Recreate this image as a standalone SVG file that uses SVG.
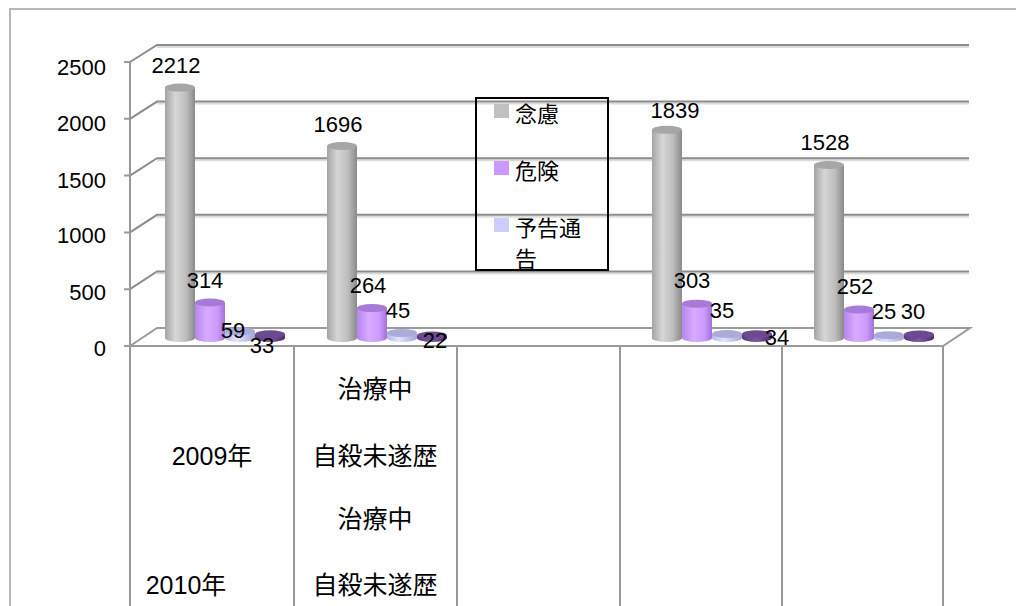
<svg xmlns="http://www.w3.org/2000/svg" width="1016" height="606" viewBox="0 0 1016 606">
<defs>
<linearGradient id="gGray" x1="0" x2="1" y1="0" y2="0"><stop offset="0" stop-color="#a4a4a4"/><stop offset="0.35" stop-color="#d6d6d6"/><stop offset="0.7" stop-color="#bdbdbd"/><stop offset="1" stop-color="#8a8a8a"/></linearGradient>
<linearGradient id="gPur" x1="0" x2="1" y1="0" y2="0"><stop offset="0" stop-color="#b586ec"/><stop offset="0.4" stop-color="#d9abff"/><stop offset="0.75" stop-color="#cc99ff"/><stop offset="1" stop-color="#a072d6"/></linearGradient>
<linearGradient id="gLav" x1="0" x2="1" y1="0" y2="0"><stop offset="0" stop-color="#b8b8ec"/><stop offset="0.4" stop-color="#e2e2ff"/><stop offset="1" stop-color="#a4a4d4"/></linearGradient>
<linearGradient id="gDark" x1="0" x2="1" y1="0" y2="0"><stop offset="0" stop-color="#5a3a7e"/><stop offset="0.5" stop-color="#7c5aa2"/><stop offset="1" stop-color="#4a2c6c"/></linearGradient>
</defs>
<style>
.grid{stroke:#8c8c8c;stroke-width:2;fill:none}
.gridsh{stroke:#dcdcdc;stroke-width:2;fill:none}
.ax{stroke:#999999;stroke-width:2;fill:none}
.num{font-family:"Liberation Sans","Noto Sans CJK JP",sans-serif;font-size:22px;fill:#000}
.cat{font-family:"Liberation Sans","Noto Sans CJK JP",sans-serif;font-size:25px;fill:#000;text-anchor:middle}
.leg{font-family:"Noto Sans CJK JP",sans-serif;font-size:22px;fill:#000}
.tg{fill:#a6a6a6}.tp{fill:#a87ad8}.tl{fill:#ababd9}.td{fill:#6a4a90}
</style>
<rect width="1016" height="606" fill="#ffffff"/>
<path d="M10,606 V9 H1016" fill="none" stroke="#a0a0a0" stroke-width="1.5"/>

<g id="gridlines">
<path class="gridsh" d="M157,47 H969 M157,103.6 H969 M157,160.2 H969 M157,216.8 H969 M157,273.4 H969"/>
<path class="grid" d="M130,62 L157,45 H969 M130,118.8 L157,101.6 H969 M130,175.6 L157,158.2 H969 M130,232.4 L157,214.8 H969 M130,289.2 L157,271.4 H969"/>
<path d="M130,346 L157,328 H970 L943,346 Z" fill="#ffffff" stroke="#9a9a9a" stroke-width="2"/>
</g>

<g id="axes">
<path class="ax" d="M130,62 V606 M124,62 H130 M124,118.8 H130 M124,175.6 H130 M124,232.4 H130 M124,289.2 H130 M124,346 H943"/>
<path class="ax" d="M294,346 V606 M457,346 V606 M620,346 V606 M782,346 V606 M943,346 V606"/>
<g class="num" text-anchor="end">
<text x="106" y="75">2500</text><text x="106" y="131">2000</text><text x="106" y="188">1500</text><text x="106" y="243">1000</text><text x="106" y="300">500</text><text x="106" y="356">0</text>
</g>
</g>

<g id="bars">
<g id="g2009">
<rect x="165" y="87.6" width="30" height="250.4" fill="url(#gGray)"/><ellipse cx="180" cy="338" rx="15" ry="4" fill="url(#gGray)"/><ellipse cx="180" cy="87.6" rx="15" ry="4" class="tg"/>
<rect x="195" y="302.5" width="30" height="35.5" fill="url(#gPur)"/><ellipse cx="210" cy="338" rx="15" ry="4" fill="url(#gPur)"/><ellipse cx="210" cy="302.5" rx="15" ry="4" class="tp"/>
<rect x="225" y="331.3" width="30" height="6.7" fill="url(#gLav)"/><ellipse cx="240" cy="338" rx="15" ry="4" fill="url(#gLav)"/><ellipse cx="240" cy="331.3" rx="15" ry="4" class="tl"/>
<rect x="255" y="334.3" width="30" height="3.7" fill="url(#gDark)"/><ellipse cx="270" cy="338" rx="15" ry="4" fill="url(#gDark)"/><ellipse cx="270" cy="334.3" rx="15" ry="4" class="td"/>
</g>
<g id="g2009b">
<rect x="327" y="146" width="30" height="192" fill="url(#gGray)"/><ellipse cx="342" cy="338" rx="15" ry="4" fill="url(#gGray)"/><ellipse cx="342" cy="146" rx="15" ry="4" class="tg"/>
<rect x="357" y="308.1" width="30" height="29.9" fill="url(#gPur)"/><ellipse cx="372" cy="338" rx="15" ry="4" fill="url(#gPur)"/><ellipse cx="372" cy="308.1" rx="15" ry="4" class="tp"/>
<rect x="387" y="332.9" width="30" height="5.1" fill="url(#gLav)"/><ellipse cx="402" cy="338" rx="15" ry="4" fill="url(#gLav)"/><ellipse cx="402" cy="332.9" rx="15" ry="4" class="tl"/>
<rect x="417" y="335.5" width="30" height="2.5" fill="url(#gDark)"/><ellipse cx="432" cy="338" rx="15" ry="4" fill="url(#gDark)"/><ellipse cx="432" cy="335.5" rx="15" ry="4" class="td"/>
</g>
<g id="g2010">
<rect x="652" y="129.8" width="30" height="208.2" fill="url(#gGray)"/><ellipse cx="667" cy="338" rx="15" ry="4" fill="url(#gGray)"/><ellipse cx="667" cy="129.8" rx="15" ry="4" class="tg"/>
<rect x="682" y="303.7" width="30" height="34.3" fill="url(#gPur)"/><ellipse cx="697" cy="338" rx="15" ry="4" fill="url(#gPur)"/><ellipse cx="697" cy="303.7" rx="15" ry="4" class="tp"/>
<rect x="712" y="334" width="30" height="4" fill="url(#gLav)"/><ellipse cx="727" cy="338" rx="15" ry="4" fill="url(#gLav)"/><ellipse cx="727" cy="334" rx="15" ry="4" class="tl"/>
<rect x="742" y="334.2" width="30" height="3.8" fill="url(#gDark)"/><ellipse cx="757" cy="338" rx="15" ry="4" fill="url(#gDark)"/><ellipse cx="757" cy="334.2" rx="15" ry="4" class="td"/>
</g>
<g id="g2010b">
<rect x="814" y="165" width="30" height="173" fill="url(#gGray)"/><ellipse cx="829" cy="338" rx="15" ry="4" fill="url(#gGray)"/><ellipse cx="829" cy="165" rx="15" ry="4" class="tg"/>
<rect x="844" y="309.5" width="30" height="28.5" fill="url(#gPur)"/><ellipse cx="859" cy="338" rx="15" ry="4" fill="url(#gPur)"/><ellipse cx="859" cy="309.5" rx="15" ry="4" class="tp"/>
<rect x="874" y="335.2" width="30" height="2.8" fill="url(#gLav)"/><ellipse cx="889" cy="338" rx="15" ry="4" fill="url(#gLav)"/><ellipse cx="889" cy="335.2" rx="15" ry="4" class="tl"/>
<rect x="904" y="334.6" width="30" height="3.4" fill="url(#gDark)"/><ellipse cx="919" cy="338" rx="15" ry="4" fill="url(#gDark)"/><ellipse cx="919" cy="334.6" rx="15" ry="4" class="td"/>
</g>
</g>

<g id="data-labels" class="num" text-anchor="middle">
<text x="176" y="73">2212</text><text x="205" y="288">314</text><text x="233" y="338">59</text><text x="262" y="353">33</text>
<text x="338" y="132">1696</text><text x="368" y="293">264</text><text x="398" y="318">45</text><text x="435" y="348">22</text>
<text x="675" y="118">1839</text><text x="692" y="288">303</text><text x="722" y="318">35</text><text x="777" y="345">34</text>
<text x="825" y="150">1528</text><text x="855" y="294">252</text><text x="884" y="319">25</text><text x="913" y="319">30</text>
</g>

<g id="legend">
<rect x="476" y="98" width="132" height="172" fill="none" stroke="#000" stroke-width="2"/>
<rect x="494" y="104" width="15" height="14" fill="#c0c0c0"/>
<rect x="494" y="161" width="15" height="14" fill="#cc99ff"/>
<rect x="494" y="218" width="15" height="14" fill="#ccccff"/>
<text class="leg" x="515" y="122">念慮</text>
<text class="leg" x="515" y="179">危険</text>
<text class="leg" x="515" y="236">予告通</text>
<text class="leg" x="515" y="267">告</text>
</g>

<g id="category-labels">
<text class="cat" x="212" y="465">2009年</text>
<text class="cat" x="186" y="594">2010年</text>
<text class="cat" x="375" y="398">治療中</text>
<text class="cat" x="375" y="465">自殺未遂歴</text>
<text class="cat" x="375" y="528">治療中</text>
<text class="cat" x="375" y="594">自殺未遂歴</text>
</g>
</svg>
